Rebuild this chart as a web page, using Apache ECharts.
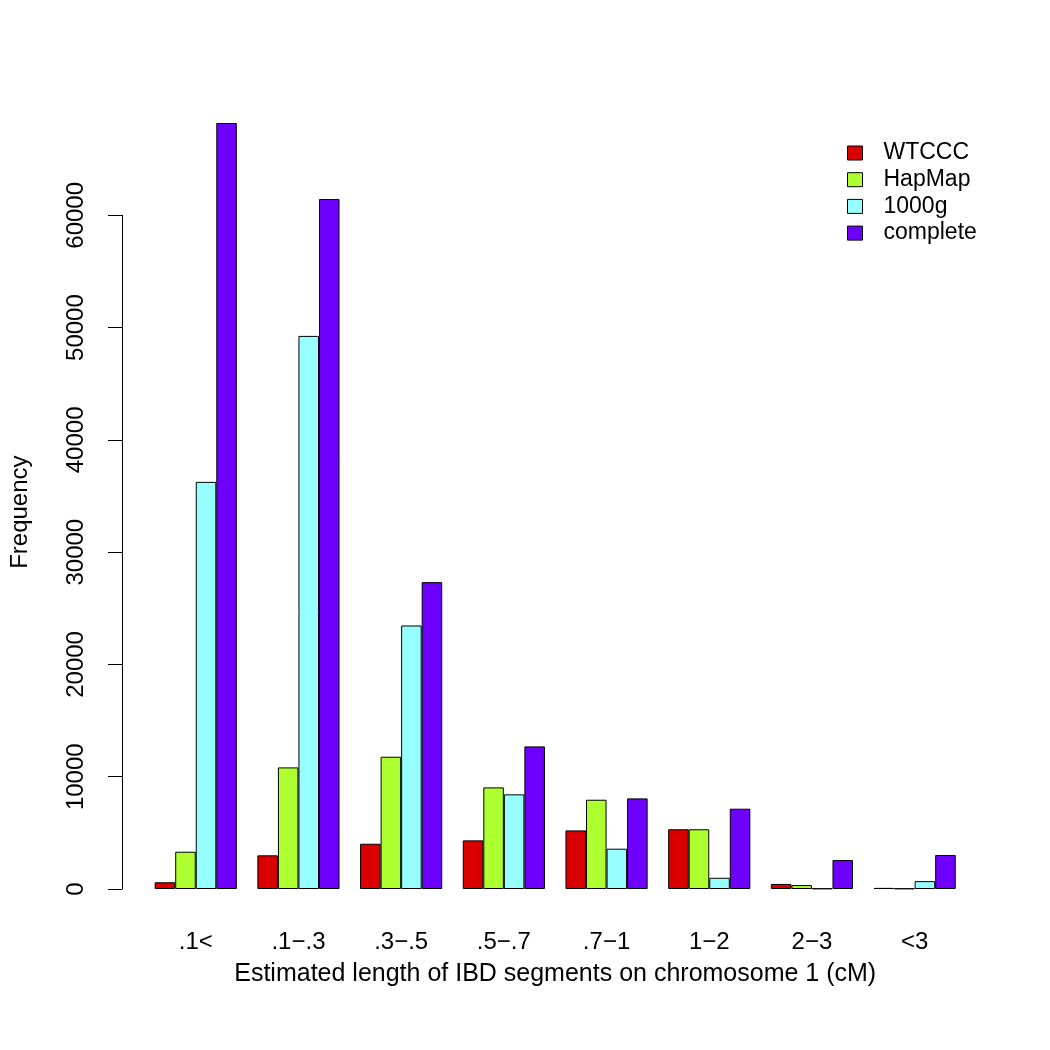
<!DOCTYPE html>
<html>
<head>
<meta charset="utf-8">
<script src="https://cdn.jsdelivr.net/npm/echarts@6/dist/echarts.min.js"></script>
<style>html,body{margin:0;padding:0;background:#fff;}#c{width:1050px;height:1050px;}</style>
</head>
<body>
<div id="c"></div>
<script>
const categories = ['.1<', '.1\u2212.3', '.3\u2212.5', '.5\u2212.7', '.7\u22121', '1\u22122', '2\u22123', '<3'];
const seriesNames = ['WTCCC', 'HapMap', '1000g', 'complete'];
const wtccc = [600, 3000, 4030, 4330, 5220, 5320, 450, 100];
const hapmap = [3320, 10830, 11780, 9050, 7950, 5320, 350, 50];
const g1000 = [36260, 49260, 23470, 8430, 3590, 1000, 50, 700];
const complete = [68220, 61450, 27330, 12700, 8070, 7150, 2580, 3030];
const yTicks = [0, 10000, 20000, 30000, 40000, 50000, 60000];

const colors = ['#DA0000', '#ADFF2F', '#97FFFF', '#6E00FF'];
const values = [wtccc, hapmap, g1000, complete];
const font = 'Liberation Sans, Arial, Helvetica, sans-serif';

const chart = echarts.init(document.getElementById('c'), null, {renderer: 'canvas'});
chart.setOption({
  animation: false,
  backgroundColor: '#fff',
  textStyle: {fontFamily: font},
  grid: {left: 144.4, right: 84, top: 215.3, bottom: 161, containLabel: false},
  legend: {
    data: seriesNames,
    orient: 'vertical',
    left: 847,
    top: 141,
    padding: 0,
    itemWidth: 15,
    itemHeight: 14,
    itemGap: 2.7,
    icon: 'rect',
    itemStyle: {borderColor: '#000', borderWidth: 1},
    textStyle: {fontSize: 23, lineHeight: 24, color: '#000', fontFamily: font, padding: [0, 0, 0, 16]}
  },
  xAxis: {
    type: 'category',
    data: categories,
    axisLine: {show: false},
    axisTick: {show: false},
    axisLabel: {fontSize: 24, color: '#000', margin: 41, fontFamily: font},
    name: 'Estimated length of IBD segments on chromosome 1 (cM)',
    nameLocation: 'middle',
    nameGap: 73,
    nameTextStyle: {fontSize: 25, color: '#000', fontFamily: font}
  },
  yAxis: {
    type: 'value',
    min: 0,
    max: 60000,
    interval: 10000,
    offset: 22.4,
    splitLine: {show: false},
    axisLine: {show: true, lineStyle: {color: '#000', width: 1}},
    axisTick: {show: true, length: 14, lineStyle: {color: '#000', width: 1}},
    axisLabel: {
      fontSize: 24, color: '#000', rotate: 90, margin: 34, fontFamily: font,
      formatter: v => yTicks.includes(v) ? String(v) : ''
    },
    name: 'Frequency',
    nameLocation: 'middle',
    nameRotate: 90,
    nameGap: 90,
    nameTextStyle: {fontSize: 24, color: '#000', fontFamily: font, padding: [0, 0, 0, 80]}
  },
  series: seriesNames.map((n, i) => ({
    name: n,
    type: 'bar',
    data: values[i],
    clip: false,
    barGap: '0%',
    barCategoryGap: '20%',
    itemStyle: {color: colors[i], borderColor: '#000', borderWidth: 1}
  }))
});
</script>
</body>
</html>
